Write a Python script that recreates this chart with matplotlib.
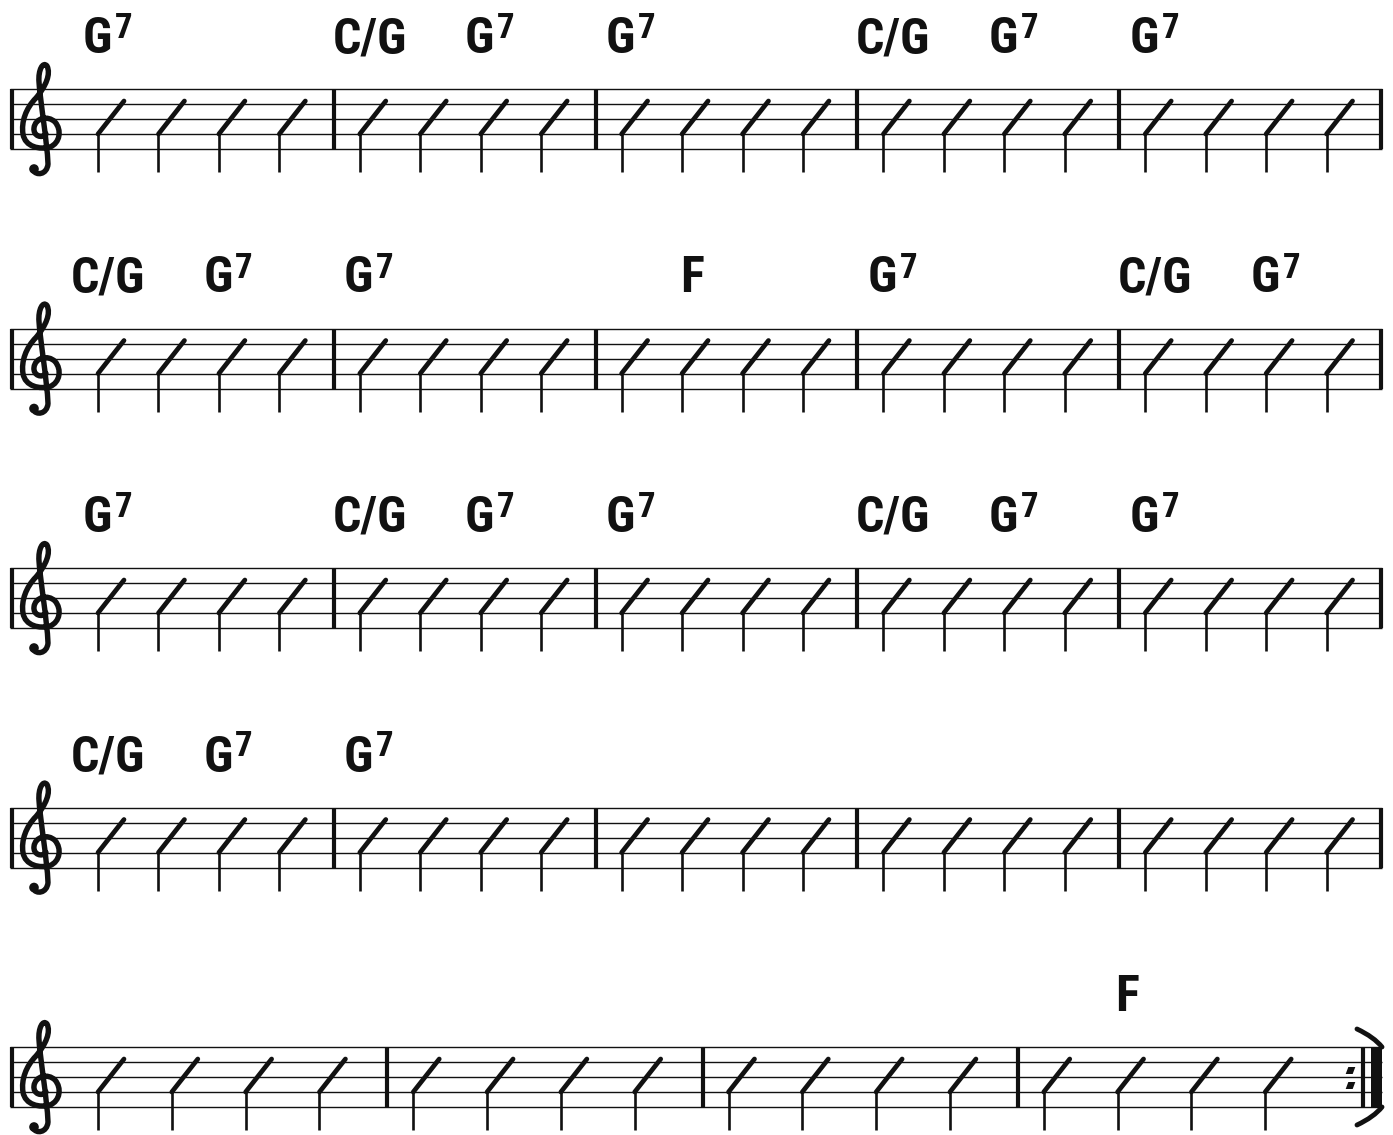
import matplotlib
matplotlib.use('Agg')
import matplotlib.pyplot as plt
from matplotlib import font_manager
from matplotlib.path import Path
from matplotlib.patches import PathPatch, Rectangle, Circle

# ---------------- data ----------------
measures_per_row = [5, 5, 5, 5, 4]
beats_per_measure = 4
chord_measure = [1, 2, 2, 3, 4, 4, 5,
                 6, 6, 7, 8, 9, 10, 10,
                 11, 12, 12, 13, 14, 14, 15,
                 16, 16, 17,
                 24]
chord_beat = [1, 1, 3, 1, 1, 3, 1,
              1, 3, 1, 2, 1, 1, 3,
              1, 1, 3, 1, 1, 3, 1,
              1, 3, 1,
              2]
chord_name = ['G7', 'C/G', 'G7', 'G7', 'C/G', 'G7', 'G7',
              'C/G', 'G7', 'G7', 'F', 'G7', 'C/G', 'G7',
              'G7', 'C/G', 'G7', 'G7', 'C/G', 'G7', 'G7',
              'C/G', 'G7', 'G7',
              'F']

# ---------------- layout / style ----------------
W, H = 1393, 1135
names = {f.name for f in font_manager.fontManager.ttflist}
CH_FONT = dict(family='DejaVu Sans', fontweight='bold', fontstretch='condensed')
for cand in ['Liberation Sans Narrow', 'Roboto Condensed', 'Open Sans Condensed', 'Roboto']:
    if cand in names:
        CH_FONT = dict(family=cand, fontweight='bold')
        break
ROOT_SIZE = 33 if CH_FONT['family'] in ('Roboto', 'DejaVu Sans') else 36

fig = plt.figure(figsize=(W / 100, H / 100), dpi=100)
ax = fig.add_axes([0, 0, 1, 1])
ax.set_xlim(0, W)
ax.set_ylim(H, 0)
ax.axis('off')

LEFT = 10
CLEF_W = 62
LINE_GAP = 15
ROW_TOP0 = 89
ROW_PITCH = 239.5
INK = '#111111'

# treble clef outline (pen stroke), relative to (LEFT, staff top)
CLEF_SEGS = [
    [(23, 81), (26, 87), (37, 86), (38, 75)],     # tail up
    [(38, 75), (37, 51), (30, 11), (29, -7)],     # stem up
    [(29, -7), (28, -19), (33, -28), (37, -23)],  # over the top
    [(37, -23), (41, -15), (36, -3), (26, 9)],    # down left
    [(26, 9), (16, 19), (11, 33), (13, 45)],      # left side of bowl
    [(13, 45), (15, 58), (30, 61), (40, 58)],     # bottom
    [(40, 58), (50, 54), (52, 41), (45, 33)],     # right side up
    [(45, 33), (38, 26), (25, 29), (24, 39)],     # top of bowl
    [(24, 39), (23, 47), (32, 50), (36, 45)],     # inner curl
]


def draw_clef(x0, y0):
    verts, codes = [], []
    for i, seg in enumerate(CLEF_SEGS):
        pts = [(x0 + px, y0 + py) for px, py in seg]
        if i == 0:
            verts.append(pts[0]); codes.append(Path.MOVETO)
        verts.extend(pts[1:]); codes.extend([Path.CURVE4] * 3)
    ax.add_patch(PathPatch(Path(verts, codes), fill=False, lw=3.9, edgecolor=INK,
                           capstyle='round', joinstyle='round'))
    ax.add_patch(Circle((x0 + 24, y0 + 80), 4.8, color=INK, lw=0))


stem_pos = {}
measure_no = 0
n_rows = len(measures_per_row)
for r, n in enumerate(measures_per_row):
    top = ROW_TOP0 + ROW_PITCH * r
    last = (r == n_rows - 1)
    content_right = 1333 if last else 1381
    staff_right = 1382
    mw = (content_right - LEFT - CLEF_W) / n
    for i in range(5):
        y = top + i * LINE_GAP
        ax.plot([LEFT, staff_right], [y, y], color=INK, lw=1.0, solid_capstyle='butt')
    ax.plot([LEFT + 1.5, LEFT + 1.5], [top, top + 4 * LINE_GAP], color=INK, lw=3, solid_capstyle='butt')
    draw_clef(LEFT, top)
    for k in range(1, n + (0 if last else 1)):
        x = LEFT + CLEF_W + mw * k
        ax.plot([x, x], [top, top + 4 * LINE_GAP], color=INK, lw=3, solid_capstyle='butt')
    spacing = (mw - 20) / beats_per_measure
    for k in range(n):
        measure_no += 1
        cs = LEFT + CLEF_W + mw * k
        for b in range(beats_per_measure):
            x = cs + 26 + b * spacing
            stem_pos[(measure_no, b + 1)] = (x, top)
            ax.plot([x, x], [top + 45, top + 83], color=INK, lw=1.9, solid_capstyle='butt')
            ax.plot([x, x + 26], [top + 45, top + 12], color=INK, lw=3.4, solid_capstyle='round')
    if last:
        xb = content_right + 30
        ax.plot([xb, xb], [top, top + 60], color=INK, lw=3, solid_capstyle='butt')
        ax.add_patch(Rectangle((1371, top), 11, 60, color=INK, lw=0))
        for sgn, y0 in ((1, top), (-1, top + 60)):
            verts = [(1357, y0 - sgn * 18), (1374, y0 - sgn * 10), (1382, y0)]
            p = Path(verts, [Path.MOVETO, Path.CURVE3, Path.CURVE3])
            ax.add_patch(PathPatch(p, fill=False, lw=3.5, edgecolor=INK, capstyle='round'))
        ax.scatter([1350, 1350], [top + 22.5, top + 37.5], s=48, color=INK,
                   marker=[(-1.1, -0.8), (0.5, -0.8), (1.1, 0.8), (-0.5, 0.8)], lw=0)

# chord symbols
for m, b, name in zip(chord_measure, chord_beat, chord_name):
    x, top = stem_pos[(m, b)]
    if name.endswith('7'):
        root, sup = name[:-1], '7'
    else:
        root, sup = name, ''
    cx = x + 10 - (11 if sup else 0)
    t = ax.text(cx, top - 36, root, ha='center', va='baseline', fontsize=ROOT_SIZE,
                color=INK, **CH_FONT)
    if sup:
        ax.annotate(sup, xy=(1.0, top - 51), xycoords=(t, 'data'),
                    xytext=(2, 0), textcoords='offset points',
                    ha='left', va='baseline', fontsize=25, color=INK, **CH_FONT)

fig.savefig('out.png', dpi=100)
